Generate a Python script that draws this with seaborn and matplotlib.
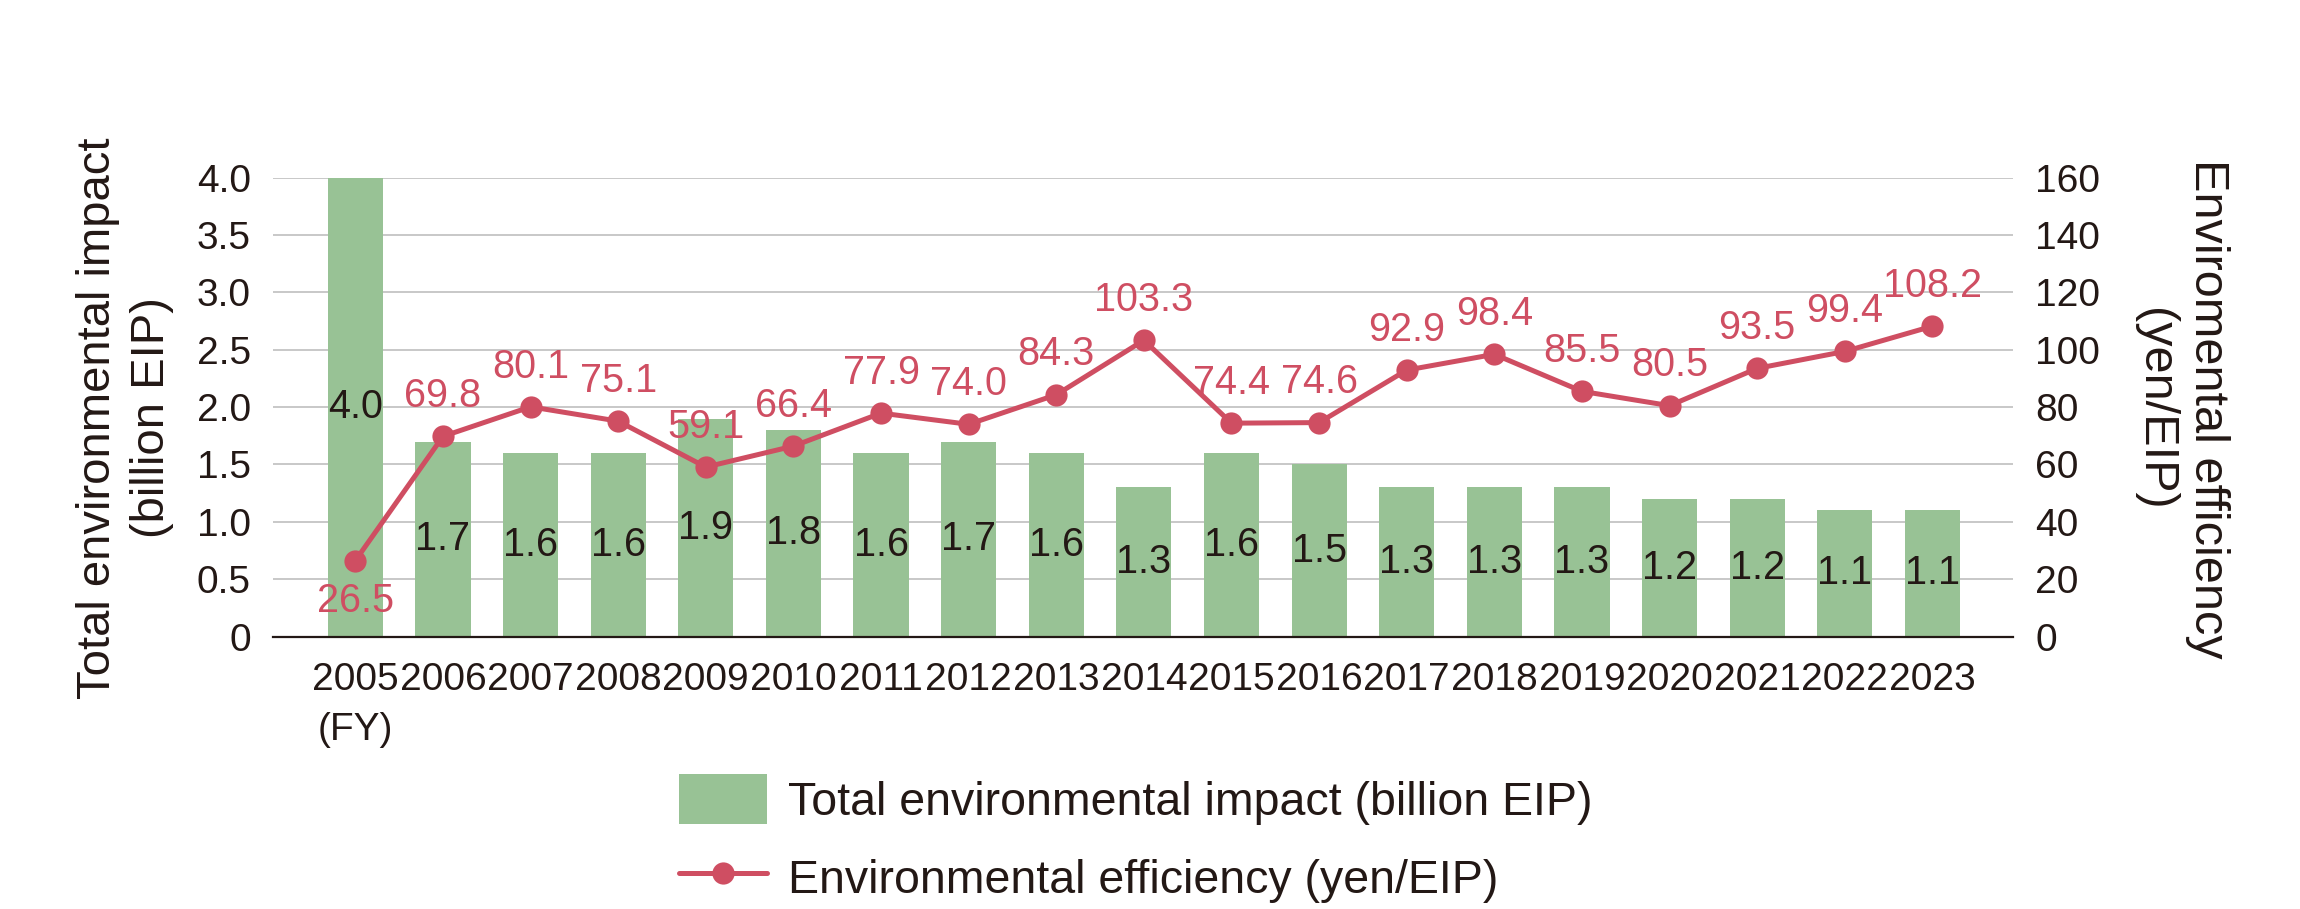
import numpy as np
import pandas as pd
import matplotlib
matplotlib.use("Agg")
import matplotlib.pyplot as plt
from matplotlib import font_manager
from matplotlib.patches import Patch
from matplotlib.lines import Line2D
import seaborn as sns

# --- data ---
years = ["2005", "2006", "2007", "2008", "2009", "2010", "2011", "2012", "2013", "2014",
         "2015", "2016", "2017", "2018", "2019", "2020", "2021", "2022", "2023"]
impact = [4.0, 1.7, 1.6, 1.6, 1.9, 1.8, 1.6, 1.7, 1.6, 1.3,
          1.6, 1.5, 1.3, 1.3, 1.3, 1.2, 1.2, 1.1, 1.1]
efficiency = [26.5, 69.8, 80.1, 75.1, 59.1, 66.4, 77.9, 74.0, 84.3, 103.3,
              74.4, 74.6, 92.9, 98.4, 85.5, 80.5, 93.5, 99.4, 108.2]
left_ticks = [0, 0.5, 1.0, 1.5, 2.0, 2.5, 3.0, 3.5, 4.0]
right_ticks = [0, 20, 40, 60, 80, 100, 120, 140, 160]
bar_name = "Total environmental impact (billion EIP)"
line_name = "Environmental efficiency (yen/EIP)"

GREEN = "#98c295"
RED = "#cf4e62"
DARK = "#231815"
GRID = "#bfbfbf"

sns.set_theme(style="white")
plt.rcParams["font.family"] = ["Liberation Sans", "DejaVu Sans"]

# the value labels are set in a narrower face when one is there
installed = {f.name for f in font_manager.fontManager.ttflist}
if "Liberation Sans Narrow" in installed:
    val_font, val_size = "Liberation Sans Narrow", 30
else:
    val_font, val_size = "Liberation Sans", 28.5

W, H = 2300, 909
fig = plt.figure(figsize=(W / 100, H / 100), dpi=100)
ax = fig.add_axes([273 / W, 1 - 636.6 / H, 1740 / W, 459 / H])

df = pd.DataFrame({"year": years, "impact": impact, "efficiency": efficiency})

# bars
sns.barplot(data=df, x="year", y="impact", color=GREEN, saturation=1,
            width=0.63, linewidth=0, ax=ax)
for i, v in enumerate(df["impact"]):
    ax.text(i, v / 2, f"{v:.1f}", ha="center", va="center", fontsize=val_size,
            family=val_font, color=DARK)

# line on the right axis
ax2 = ax.twinx()
sns.lineplot(x=df.index, y=df["efficiency"], color=RED, linewidth=3.6, marker="o",
             markersize=16, markeredgewidth=0, ax=ax2)
for i, v in enumerate(df["efficiency"]):
    off = -29 if i == 0 else 29
    ax2.annotate(f"{v:.1f}", (i, v), xytext=(0, off), textcoords="offset points",
                 ha="center", va="center", fontsize=val_size, family=val_font, color=RED)

# axes styling
ax.set_ylim(0, 4)
ax2.set_ylim(0, 160)
ax.set_xlim(-0.94, 18.92)
ax.set_yticks(left_ticks, ["0" if t == 0 else f"{t:.1f}" for t in left_ticks])
ax2.set_yticks(right_ticks, [str(t) for t in right_ticks])
xlabels = [years[0] + "\n(FY)"] + years[1:]
ax.set_xticks(range(len(years)), xlabels)
ax.get_xticklabels()[0].set_linespacing(1.5)
ax.set_xlabel("")
ax.set_ylabel("")
ax2.set_ylabel("")

ax.grid(axis="y", color=GRID, linewidth=1.2)
ax.set_axisbelow(True)
ax2.grid(False)
for s in ["top", "left", "right"]:
    ax.spines[s].set_visible(False)
for s in ax2.spines.values():
    s.set_visible(False)
ax.spines["bottom"].set_color(DARK)
ax.spines["bottom"].set_linewidth(1.6)

ax.tick_params(axis="y", length=0, labelsize=28, pad=16, labelcolor=DARK)
ax.tick_params(axis="x", length=0, labelsize=28, pad=18, labelcolor=DARK)
ax2.tick_params(axis="y", length=0, labelsize=28, pad=16, labelcolor=DARK)

# axis titles
fig.text(125 / W, 1 - 418 / H, "Total environmental impact\n(billion EIP)", rotation=90,
         ha="center", va="center", multialignment="center", fontsize=34, color=DARK,
         linespacing=1.3)
fig.text(2181 / W, 1 - 409 / H, "Enviromental efficiency\n(yen/EIP)", rotation=270,
         ha="center", va="center", multialignment="center", fontsize=35, color=DARK,
         linespacing=1.25)

# legend
handles = [Patch(facecolor=GREEN, edgecolor="none"),
           Line2D([], [], color=RED, linewidth=3.6, marker="o", markersize=16,
                  markeredgewidth=0)]
fig.legend(handles, [bar_name, line_name], loc="upper left",
           bbox_to_anchor=(679 / W, 1 - 774 / H), frameon=False, fontsize=33.5,
           handlelength=1.9, handleheight=1.28, handletextpad=0.44,
           labelspacing=0.6, borderpad=0, borderaxespad=0, labelcolor=DARK)

fig.savefig("out.png", dpi=100)
